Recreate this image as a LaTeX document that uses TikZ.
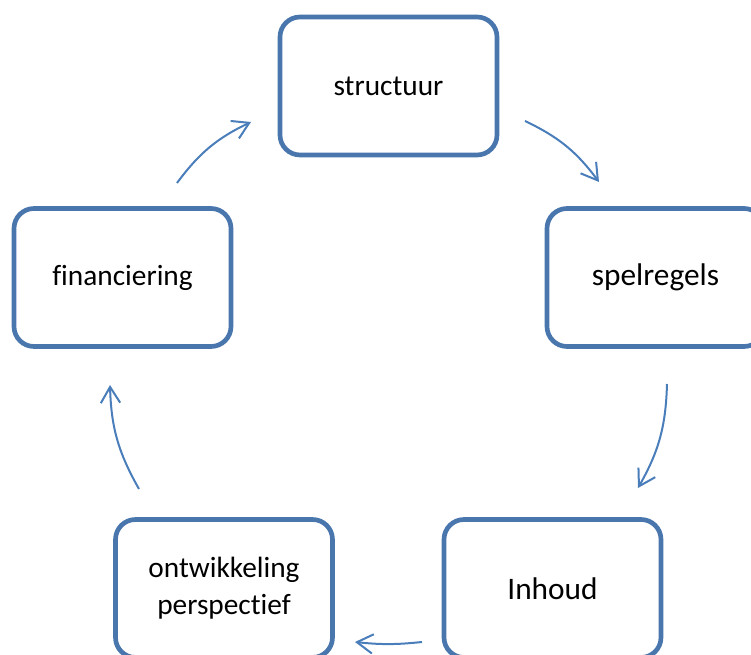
\documentclass[tikz,border=0pt]{standalone}
\usepackage{fontspec}
\setmainfont[RawFeature={-liga;-clig}]{Carlito}
\usetikzlibrary{arrows.meta}
\definecolor{boxblue}{HTML}{4A76AE}
\definecolor{arrowblue}{HTML}{4A7EBB}
\begin{document}
\begin{tikzpicture}[x=0.75pt,y=-0.75pt,
  box/.style={draw=boxblue, line width=3.5pt, rounded corners=15pt, fill=white,
    minimum width=162.75pt, minimum height=103.5pt, align=center, inner sep=0pt},
  small/.style={font=\fontsize{22}{27.75}\selectfont},
  large/.style={font=\fontsize{23.5}{28}\selectfont},
  flow/.style={draw=arrowblue, line width=1.5pt,
    -{Straight Barb[length=12pt,width=14.5pt,line width=1.5pt]}}]
\useasboundingbox (0,0) rectangle (751,655);
\clip (0,0) rectangle (751,655);
\node[box, small] (structuur) at (388.5,86) {structuur};
\node[box, large] (spelregels) at (655.5,277.5) {spelregels};
\node[box, small] (financiering) at (122.5,277.5) {financiering};
\node[box, large] (inhoud) at (552.5,588.5) {Inhoud};
\node[box, small] (ontw) at (224,588.5) {ontwikkeling\\perspectief};
\coordinate (a1) at (525,121); \coordinate (b1) at (599,182);
\coordinate (a2) at (667,384); \coordinate (b2) at (638,488);
\coordinate (a3) at (422,642); \coordinate (b3) at (355,642);
\coordinate (a4) at (139,489); \coordinate (b4) at (110,385);
\coordinate (a5) at (177,183); \coordinate (b5) at (251,122);
\draw[flow] (a1) to[bend left=14] (b1);
\draw[flow] (a2) to[bend left=14] (b2);
\draw[flow] (a3) to[bend left=6] (b3);
\draw[flow] (a4) to[bend left=14] (b4);
\draw[flow] (a5) to[bend left=14] (b5);
\end{tikzpicture}
\end{document}
